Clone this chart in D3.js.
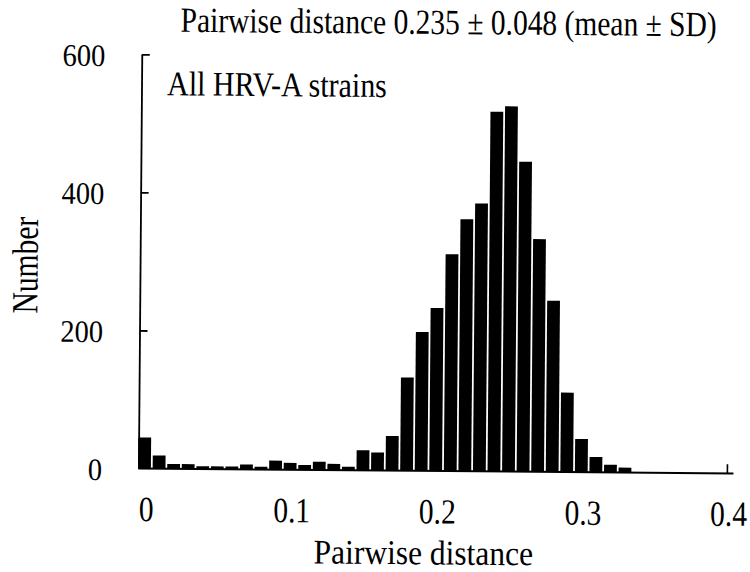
<!DOCTYPE html>
<html><head><meta charset="utf-8">
<script src="https://cdn.jsdelivr.net/npm/d3@7"></script>
<style>
html,body{margin:0;padding:0;background:#fff;}
svg{display:block;}
text{font-family:"Liberation Serif","Times New Roman",serif;fill:#000;}
</style>
</head><body>
<svg id="chart" width="750" height="572"></svg>
<script>
// ---- data ----
const distances = [0.00,0.01,0.02,0.03,0.04,0.05,0.06,0.07,0.08,0.09,
                   0.10,0.11,0.12,0.13,0.14,0.15,0.16,0.17,0.18,0.19,
                   0.20,0.21,0.22,0.23,0.24,0.25,0.26,0.27,0.28,0.29,
                   0.30,0.31,0.32,0.33];
const counts = [45,19,7,7,4,4,4,7,4,13,
                10,7,12,9,5,29,26,50,135,201,
                236,314,365,388,521,529,449,337,248,115,
                48,22,11,7];
const yTickValues = [0,200,400,600];
const yTickLabels = ["0","200","400","600"];
const xTickValues = [0,0.1,0.2,0.3,0.4];
const xTickLabels = ["0","0.1","0.2","0.3","0.4"];
const titleText = "Pairwise distance 0.235 \u00B1 0.048 (mean \u00B1 SD)";
const panelLabel = "All HRV-A strains";
const xTitle = "Pairwise distance";
const yTitle = "Number";

// ---- layout ----
const svg = d3.select("#chart");
svg.append("rect").attr("width",750).attr("height",572).attr("fill","#fff");
// scanned original is tilted slightly clockwise
const g = svg.append("g").attr("transform","rotate(0.47,138.5,468.5)");

const x = d3.scaleLinear().domain([0,0.4]).range([144.5,726.9]);
const y = d3.scaleLinear().domain([0,600]).range([468.5,54.3]);
const barW = 12.8;

// bars
g.append("g").selectAll("rect").data(distances).join("rect")
  .attr("x",(d)=>x(d)-barW/2)
  .attr("width",barW)
  .attr("y",(d,i)=>y(counts[i]))
  .attr("height",(d,i)=>y(0)-y(counts[i]))
  .attr("fill","#000");

// y axis (ticks pointing inward)
const yAxis = d3.axisRight(y).tickValues([200,400,600]).tickSize(8).tickSizeOuter(0).tickFormat("");
const ya = g.append("g").attr("transform",`translate(${x(-0.0042)},0)`).call(yAxis);
ya.select(".domain").attr("stroke","#000").attr("stroke-width",1.8);
ya.selectAll(".tick line").attr("stroke","#000").attr("stroke-width",1.8);

// x axis baseline + end tick
g.append("line")
  .attr("x1",x(-0.0042)).attr("x2",x(0.4045))
  .attr("y1",y(0)).attr("y2",y(0))
  .attr("stroke","#000").attr("stroke-width",2);
const xAxis = d3.axisTop(x).tickValues([0.4]).tickSize(9).tickSizeOuter(0).tickFormat("");
const xa = g.append("g").attr("transform",`translate(0,${y(0)})`).call(xAxis);
xa.select(".domain").remove();
xa.selectAll(".tick line").attr("stroke","#000").attr("stroke-width",1.6);

function txt(str,px,py,size,sy,anchor,rot){
  g.append("text")
    .attr("transform",`translate(${px},${py})${rot?` rotate(${rot})`:""} scale(1,${sy})`)
    .attr("text-anchor",anchor)
    .style("font-size",size+"px")
    .text(str);
}

// y tick labels
yTickValues.forEach((v,i)=>txt(yTickLabels[i],102,y(v)+12,28.5,1.1,"end"));
// x tick labels
xTickValues.forEach((v,i)=>txt(xTickLabels[i],x(v)+2,521,29.5,1.2,"middle"));

// titles
txt(titleText,445,31.5,29.5,1.2,"middle");
txt(panelLabel,164,95,30,1.15,"start");
txt(xTitle,424,562,31.5,1.1,"middle");
txt(yTitle,36,266,29.5,1.25,"middle",-90);
</script>
</body></html>
